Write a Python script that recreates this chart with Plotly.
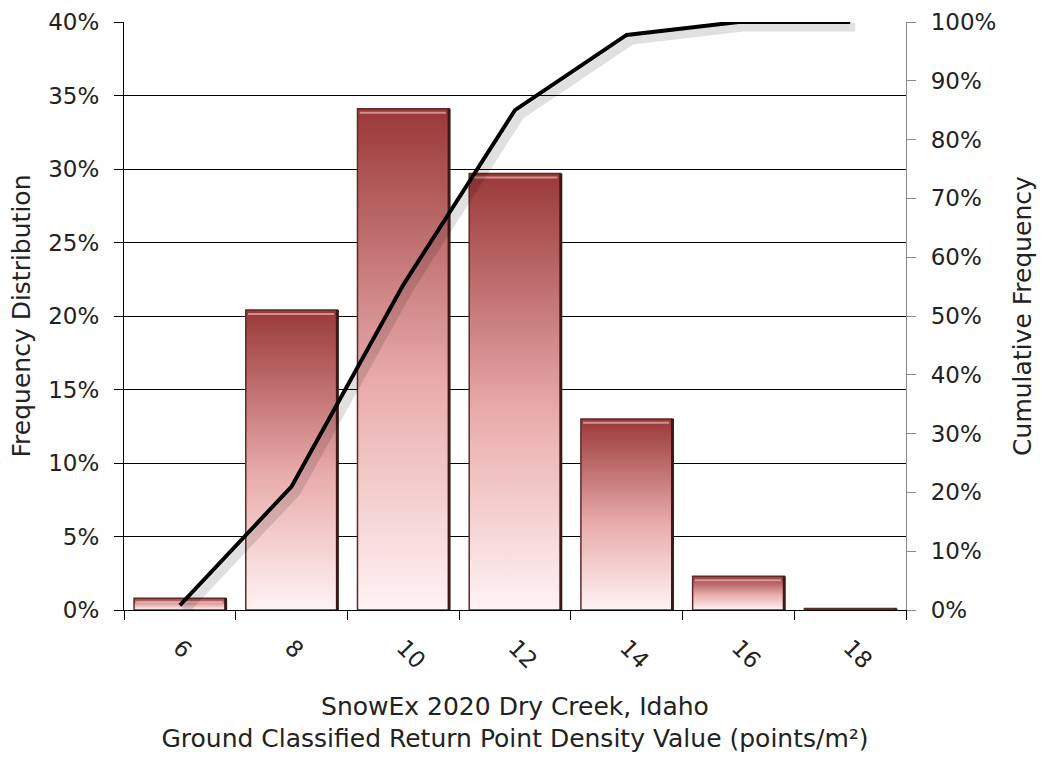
import plotly.graph_objects as go

# Histogram of ground-classified return point density
bins = ["6", "8", "10", "12", "14", "16", "18"]
freq_pct = [0.8, 20.4, 34.1, 29.7, 13.0, 2.3, 0.1]
cum_pct = [0.8, 21.0, 55.3, 85.0, 97.8, 100.0, 100.0]

left_ticks = [0, 5, 10, 15, 20, 25, 30, 35, 40]
right_ticks = [0, 10, 20, 30, 40, 50, 60, 70, 80, 90, 100]

FONT = "DejaVu Sans"
TICK_SIZE = 23
TITLE_SIZE = 25
HALF_W = 0.41
grad = [[0.0, "#fff3f3"], [0.45, "#e9acac"], [1.0, "#9a3838"]]

fig = go.Figure()

pos = list(range(len(bins)))
for i, v in zip(pos, freq_pct):
    fig.add_trace(go.Scatter(
        x=[i - HALF_W, i - HALF_W, i + HALF_W, i + HALF_W, i - HALF_W],
        y=[0, v, v, 0, 0],
        mode="lines", fill="toself",
        fillgradient=dict(type="vertical", colorscale=grad),
        line=dict(color="#5e2a2a", width=1.5),
        hoverinfo="skip", showlegend=False,
        xaxis="x", yaxis="y",
    ))
    # darker right edge of each bar
    fig.add_trace(go.Scatter(
        x=[i + HALF_W, i + HALF_W], y=[0, v],
        mode="lines", line=dict(color="#3a1a1a", width=3),
        hoverinfo="skip", showlegend=False, xaxis="x", yaxis="y",
    ))
    # bevel highlight just under the top edge (drawn on a slightly shifted scale)
    if v >= 0.5:
        fig.add_trace(go.Scatter(
            x=[i - HALF_W + 0.02, i + HALF_W - 0.03], y=[v, v],
            mode="lines", line=dict(color="rgba(255,215,215,0.55)", width=2),
            hoverinfo="skip", showlegend=False, xaxis="x2", yaxis="y2",
        ))

# soft drop shadow under the cumulative curve
fig.add_trace(go.Scatter(
    x=pos, y=cum_pct, mode="lines",
    line=dict(color="rgba(0,0,0,0.12)", width=9),
    hoverinfo="skip", showlegend=False, xaxis="x3", yaxis="y3",
))
fig.add_trace(go.Scatter(
    x=pos, y=cum_pct, mode="lines",
    line=dict(color="black", width=4),
    showlegend=False, xaxis="x4", yaxis="y4",
))

fig.update_layout(
    width=1042, height=758,
    margin=dict(l=124, r=136, t=22, b=148),
    plot_bgcolor="white", paper_bgcolor="white",
    font=dict(family=FONT, size=TICK_SIZE, color="#222"),
    showlegend=False,
    xaxis=dict(
        range=[-0.5, 6.5], tickvals=pos, ticktext=bins, tickangle=45,
        ticks="", showgrid=False, zeroline=False, automargin=False,
        showline=True, linecolor="black", linewidth=1.2,
        minor=dict(tickvals=[k - 0.5 for k in range(len(bins) + 1)],
                   ticks="outside", ticklen=9, tickcolor="black", tickwidth=1.3),
        tickfont=dict(size=TICK_SIZE), ticklabelstandoff=14,
        title=dict(text="SnowEx 2020 Dry Creek, Idaho<br>Ground Classified Return Point Density Value (points/m²)",
                   font=dict(size=TITLE_SIZE), standoff=24),
        fixedrange=True,
    ),
    yaxis=dict(
        range=[0, 40], tickvals=left_ticks, ticktext=[f"{t}%" for t in left_ticks],
        showgrid=True, gridcolor="black", gridwidth=1, zeroline=False,
        showline=True, linecolor="black", linewidth=1.2, automargin=False,
        ticks="outside", ticklen=9, tickcolor="black",
        tickfont=dict(size=TICK_SIZE), ticklabelstandoff=10,
        title=dict(text="Frequency Distribution", font=dict(size=TITLE_SIZE), standoff=10),
    ),
    xaxis2=dict(overlaying="x", range=[-0.5, 6.5], visible=False, anchor="y2"),
    yaxis2=dict(overlaying="y", range=[0.27, 40.27], visible=False, anchor="x2"),
    xaxis3=dict(overlaying="x", range=[-0.545, 6.455], visible=False, anchor="y3"),
    yaxis3=dict(overlaying="y", range=[0.85, 100.85], visible=False, anchor="x3"),
    xaxis4=dict(overlaying="x", range=[-0.5, 6.5], visible=False, anchor="y4"),
    yaxis4=dict(
        overlaying="y", side="right", anchor="x4", range=[0, 100],
        tickvals=right_ticks, ticktext=[f"{t}%" for t in right_ticks],
        showgrid=False, zeroline=False, automargin=False,
        showline=True, linecolor="#8a8a8a", linewidth=1.2,
        ticks="outside", ticklen=9, tickcolor="#8a8a8a",
        tickfont=dict(size=TICK_SIZE), ticklabelstandoff=10,
        title=dict(text="Cumulative Frequency", font=dict(size=TITLE_SIZE), standoff=18),
    ),
)

fig.write_html("out.html")
